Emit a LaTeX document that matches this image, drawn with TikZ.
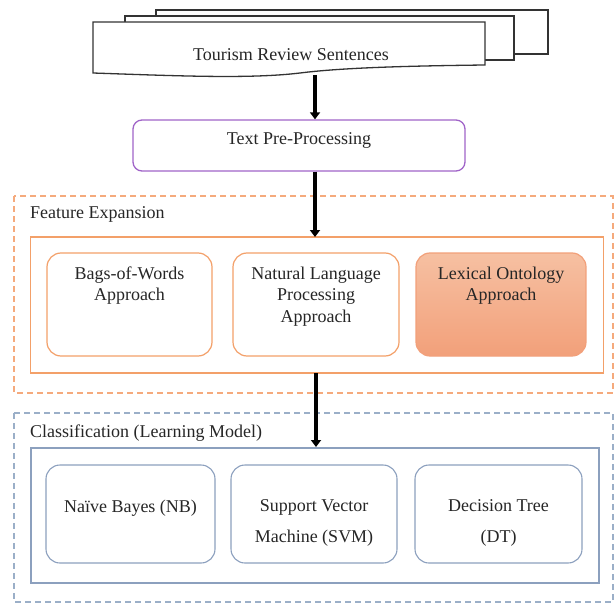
\documentclass[tikz,border=0pt]{standalone}
\usepackage{fontspec}
\setmainfont{Liberation Serif}
\usetikzlibrary{arrows.meta,shapes.geometric}
\definecolor{orln}{RGB}{243,160,105}
\definecolor{ordash}{RGB}{245,170,125}
\definecolor{lextop}{RGB}{246,192,162}
\definecolor{lexbot}{RGB}{242,160,122}
\definecolor{purp}{RGB}{160,100,200}
\definecolor{blln}{RGB}{140,160,190}
\definecolor{bldash}{RGB}{155,175,200}
\tikzset{
  txt/.style={font=\fontsize{18}{21.5}\selectfont, align=center, inner sep=0pt, text=black!85},
  docshape/.style={draw=black!80, line width=1.3pt, fill=white},
  flow/.style={line width=3.2pt, -{Triangle[width=10pt,length=7pt]}, black},
  fbox/.style={draw=orln, line width=1.2pt, rounded corners=14pt, fill=white},
  cbox/.style={draw=blln, line width=1.1pt, rounded corners=14pt, fill=white},
  panel/.style={draw, line width=1.2pt, fill=white},
  outerdash/.style={line width=1.4pt, dash pattern=on 6pt off 4pt},
}
\begin{document}
\begin{tikzpicture}[x=1pt,y=-1pt]
\useasboundingbox (0,0) rectangle (615,604);
% document stack
\draw[docshape] (156,10) rectangle (548,54);
\draw[docshape] (125,16) rectangle (514,60);
\draw[docshape] (93,22) -- (485,22) -- (485,65)
   .. controls (400,66) and (340,68) .. (300,73)
   .. controls (250,79) and (180,76) .. (93,73) -- cycle;
\node[txt] (docs) at (291,55) {Tourism Review Sentences};
\coordinate (docbottom) at (315,75);

% pre-processing
\node[draw=purp, line width=1.3pt, rounded corners=9pt, minimum width=332pt, minimum height=51pt, inner sep=0pt] (pre) at (299,145.5) {};
\node[txt] (pretxt) at (299,140) {Text Pre-Processing};

% feature expansion
\draw[outerdash, draw=ordash] (14,196) rectangle (613,393);
\node[txt, anchor=west] (felab) at (30,214) {Feature Expansion};
\node[panel, draw=orln, minimum width=573pt, minimum height=136pt, inner sep=0pt] (fe) at (317,305) {};
\node[fbox, minimum width=165pt, minimum height=103pt, inner sep=0pt] (bow) at (129.5,304.5) {};
\node[fbox, minimum width=166pt, minimum height=103pt, inner sep=0pt] (nlp) at (316,304.5) {};
\node[fbox, draw=lexbot, top color=lextop, bottom color=lexbot, minimum width=170pt, minimum height=103pt, inner sep=0pt] (lex) at (501,304.5) {};
\node[txt, anchor=north] (bowt) at ([yshift=-14pt]bow.north) {Bags-of-Words\\Approach};
\node[txt, anchor=north] (nlpt) at ([yshift=-14pt]nlp.north) {Natural Language\\Processing\\Approach};
\node[txt, anchor=north] (lext) at ([yshift=-14pt]lex.north) {Lexical Ontology\\Approach};

% classification
\draw[outerdash, draw=bldash] (14,413) rectangle (613,602);
\node[txt, anchor=west] (cllab) at (30,433) {Classification (Learning Model)};
\node[panel, draw=blln, minimum width=568pt, minimum height=135pt, inner sep=0pt] (cl) at (315,515.5) {};
\node[cbox, minimum width=169pt, minimum height=98pt, inner sep=0pt] (nb) at (130.5,514) {};
\node[cbox, minimum width=166pt, minimum height=98pt, inner sep=0pt] (svm) at (314,514) {};
\node[cbox, minimum width=167pt, minimum height=98pt, inner sep=0pt] (dt) at (498.5,514) {};
\node[txt, anchor=north] (nbt) at ([yshift=-35pt]nb.north) {Naïve Bayes (NB)};
\node[txt, anchor=north] (svmt) at ([yshift=-35pt]svm.north) {Support Vector\\[9pt]Machine (SVM)};
\node[txt, anchor=north] (dtt) at ([yshift=-35pt]dt.north) {Decision Tree\\[9pt](DT)};

% arrows
\draw[flow] (docbottom) -- (docbottom |- pre.north);
\draw[flow] (pre.south -| 315,0) -- (315,237);
\draw[flow] (316,373) -- (316,447);
\end{tikzpicture}
\end{document}
